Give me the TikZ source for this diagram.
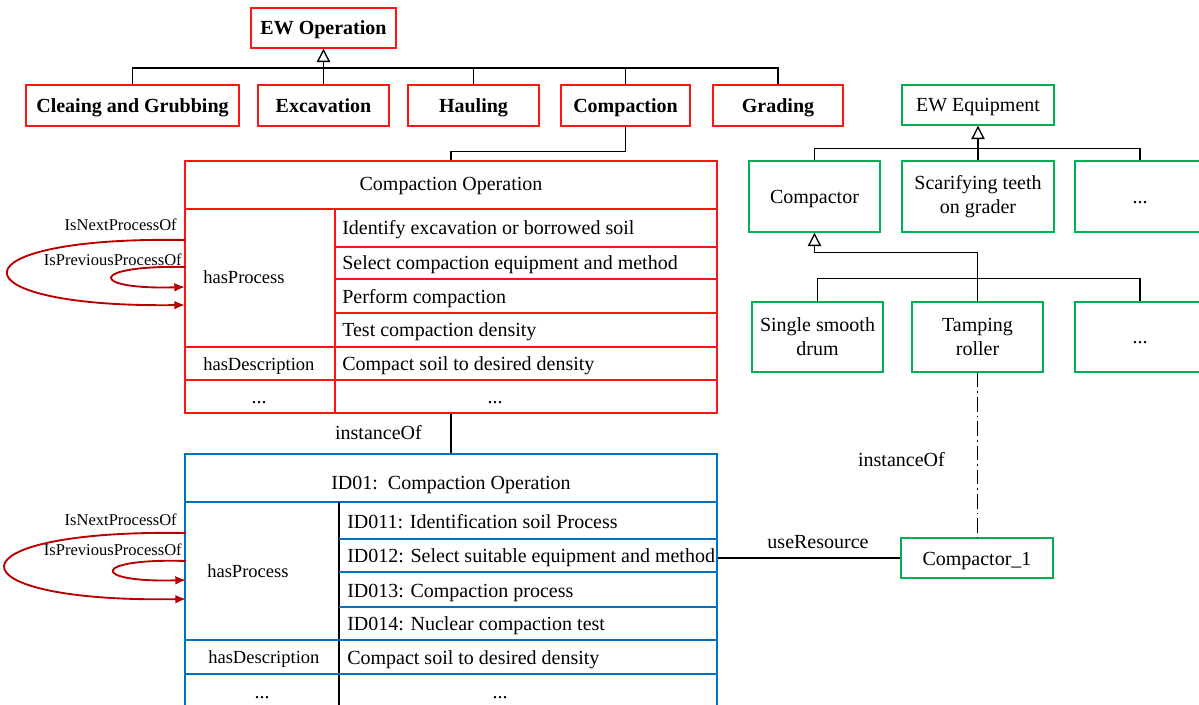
\documentclass[tikz,border=0pt]{standalone}
\usepackage{fontspec}
\setmainfont{Liberation Serif}
\usetikzlibrary{arrows.meta}
\newdimen\px \px=0.75pt
\definecolor{bred}{RGB}{255,20,20}
\definecolor{bgreen}{RGB}{0,176,80}
\definecolor{bblue}{RGB}{0,112,192}
\definecolor{lred}{RGB}{185,0,0}
\newcommand\fmain{\fontsize{15}{18}\selectfont}
\newcommand\fleft{\fontsize{13.9}{16.5}\selectfont}
\newcommand\flab{\fontsize{12.4}{14.5}\selectfont}
\begin{document}
\begin{tikzpicture}[x=0.75pt,y=-0.75pt,
  redbox/.style={draw=bred, line width=1.1pt, font=\fmain\bfseries, inner sep=0pt, minimum height=41\px, text height=14pt, text depth=3.5pt},
  greenbox/.style={draw=bgreen, line width=1.1pt, font=\fmain, inner sep=0pt, align=center},
  oneline/.style={text height=14pt, text depth=3.5pt},
  tablebox/.style={line width=1.1pt, inner sep=0pt},
  redline/.style={draw=bred, line width=1.1pt},
  blueline/.style={draw=bblue, line width=1.1pt},
  cell/.style={font=\fmain, inner sep=0pt, text height=14pt, text depth=3.5pt},
  lcell/.style={font=\fleft, inner sep=0pt, text height=13pt, text depth=3pt},
  lab/.style={font=\flab, inner sep=0pt},
  conn/.style={line width=1pt, black},
  gen/.style={conn, -{Triangle[open, length=10pt, width=10pt]}},
  selfarc/.style={draw=lred, line width=1.4pt, -{Latex[length=8pt, width=6.5pt]}},
  dashdot/.style={conn, dash pattern=on 11pt off 3pt on 1.2pt off 3pt},
]
\useasboundingbox (0,0) rectangle (1199,705);

% ---------- operation hierarchy ----------
\node[redbox, minimum width=145\px, minimum height=40\px] (ewop) at (323.5,28) {EW Operation};
\node[redbox, minimum width=213\px] (cg) at (132.5,105.5) {Cleaing and Grubbing};
\node[redbox, minimum width=131\px] (exc) at (323.5,105.5) {Excavation};
\node[redbox, minimum width=131\px] (haul) at (473.5,105.5) {Hauling};
\node[redbox, minimum width=129\px] (comp) at (625.5,105.5) {Compaction};
\node[redbox, minimum width=130\px] (grad) at (778,105.5) {Grading};

\coordinate (obar) at (0,68);
\draw[conn] (cg.north) -- (cg.north |- obar) -- (grad.north |- obar) -- (grad.north);
\draw[gen] (exc.north) -- (ewop.south);
\draw[conn] (haul.north) -- (haul.north |- obar);
\draw[conn] (comp.north) -- (comp.north |- obar);

% ---------- red class table ----------
\node[tablebox, draw=bred, minimum width=532\px, minimum height=252\px] (ct) at (451,287) {};
\draw[conn] (comp.south) -- ++(0,24.5) -| (ct.north);
\draw[redline] (185,209) -- (717,209);
\draw[redline] (335,209) -- (335,413);
\draw[redline] (335,247) -- (717,247);
\draw[redline] (335,279) -- (717,279);
\draw[redline] (335,313) -- (717,313);
\draw[redline] (185,347) -- (717,347);
\draw[redline] (185,380) -- (717,380);

\node[cell] (ctt) at (451,184) {Compaction Operation};
\node[cell, anchor=west] (cp1) at (342,228) {Identify excavation or borrowed soil};
\node[cell, anchor=west] (cp2) at (342,263) {Select compaction equipment and method};
\node[cell, anchor=west] (cp3) at (342,296.5) {Perform compaction};
\node[cell, anchor=west] (cp4) at (342,330) {Test compaction density};
\node[lcell, anchor=west] (chp) at (203,277) {hasProcess};
\node[lcell, anchor=west] (chd) at (203,363.5) {hasDescription};
\node[cell, anchor=west] (cdd) at (342,363.5) {Compact soil to desired density};
\node[cell] (cdl) at (259,396.5) {...};
\node[cell] (cdr) at (495,396.5) {...};

\coordinate (rl1s) at (185,240);
\coordinate (rl1e) at (185,305);
\coordinate (rl2s) at (185,267);
\coordinate (rl2e) at (185,287);
\draw[selfarc] (rl1s) .. controls (-51,236) and (-51,308) .. (rl1e);
\draw[selfarc] (rl2s) .. controls (88,265) and (88,290) .. (rl2e);
\node[lab, anchor=east] (rn1) at (177,225) {IsNextProcessOf};
\node[lab, anchor=east] (rp1) at (182,260) {IsPreviousProcessOf};

% ---------- blue instance table ----------
\node[tablebox, draw=bblue, minimum width=532\px, minimum height=258\px] (bt) at (451,583) {};
\draw[conn] (ct.south) -- (ct.south |- bt.north);
\node[cell, anchor=east] (io1) at (422,433) {instanceOf};

\draw[blueline] (185,502) -- (717,502);
\draw[conn] (339,502) -- (339,712);
\draw[blueline] (339,539) -- (717,539);
\draw[blueline] (339,572) -- (717,572);
\draw[blueline] (339,607) -- (717,607);
\draw[blueline] (185,640) -- (717,640);
\draw[blueline] (185,674) -- (717,674);

\node[cell] (bt1) at (451,482) {ID01:\ \ Compaction Operation};
\node[cell, anchor=west] (bp1) at (347,521) {ID011: Identification soil Process};
\node[cell, anchor=west] (bp2) at (347,555.5) {ID012: Select suitable equipment and method};
\node[cell, anchor=west] (bp3) at (347,590) {ID013: Compaction process};
\node[cell, anchor=west] (bp4) at (347,623) {ID014: Nuclear compaction test};
\node[lcell, anchor=west] (bhp) at (207,571) {hasProcess};
\node[lcell, anchor=west] (bhd) at (208,657) {hasDescription};
\node[cell, anchor=west] (bdd) at (347,657) {Compact soil to desired density};
\node[cell] (bdl) at (262,691) {...};
\node[cell] (bdr) at (500,691) {...};

\coordinate (bl1s) at (186,533);
\coordinate (bl1e) at (186,599);
\coordinate (bl2s) at (186,561);
\coordinate (bl2e) at (186,580);
\draw[selfarc] (bl1s) .. controls (-55,529) and (-55,603) .. (bl1e);
\draw[selfarc] (bl2s) .. controls (90,558) and (90,583) .. (bl2e);
\node[lab, anchor=east] (bn1) at (177,520) {IsNextProcessOf};
\node[lab, anchor=east] (bp0) at (182,550) {IsPreviousProcessOf};

% ---------- equipment hierarchy ----------
\node[greenbox, oneline, minimum width=152\px, minimum height=40\px] (eweq) at (978,105) {EW Equipment};
\node[greenbox, oneline, minimum width=131\px, minimum height=71\px] (compactor) at (814.5,196.5) {Compactor};
\node[greenbox, minimum width=152\px, minimum height=71\px] (scar) at (978,196.5) {Scarifying teeth\\on grader};
\node[greenbox, oneline, minimum width=130\px, minimum height=71\px] (dots1) at (1140,196.5) {...};
\node[greenbox, minimum width=131\px, minimum height=70\px] (ssd) at (817.5,337) {Single smooth\\drum};
\node[greenbox, minimum width=131\px, minimum height=70\px] (tamp) at (977.5,337) {Tamping\\roller};
\node[greenbox, oneline, minimum width=130\px, minimum height=70\px] (dots2) at (1140,337) {...};
\node[greenbox, oneline, minimum width=152\px, minimum height=40\px] (c1) at (977,558) {Compactor\_1};

\draw[conn] (compactor.north) -- ++(0,-12) -| (dots1.north);
\draw[gen] (scar.north) -- (eweq.south);
\draw[gen] (tamp.north) -- ++(0,-49) -| (compactor.south);
\draw[conn] (ssd.north) -- ++(0,-23) -| (dots2.north);

\draw[dashdot] (tamp.south) -- (tamp.south |- c1.north);
\node[cell, anchor=east] (io2) at (945,460) {instanceOf};

\draw[conn] (c1.west) -- (c1.west -| bt.east);
\node[cell] (ur) at (818,541) {useResource};
\end{tikzpicture}
\end{document}
